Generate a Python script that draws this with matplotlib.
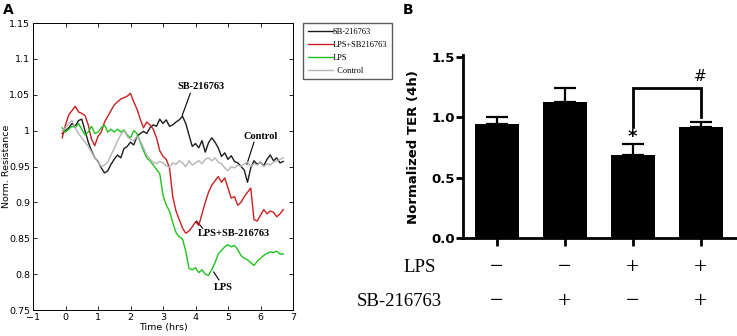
import matplotlib
matplotlib.use("Agg")
import matplotlib.pyplot as plt
from matplotlib.lines import Line2D

# ---------------- data: panel A ----------------
time_hrs = [-0.1, 0.0, 0.1, 0.2, 0.3, 0.4, 0.5, 0.6, 0.7, 0.8, 0.9, 1.0, 1.1, 1.2, 1.3, 1.4,
            1.5, 1.6, 1.7, 1.8, 1.9, 2.0, 2.1, 2.2, 2.3, 2.4, 2.5, 2.6, 2.7, 2.8, 2.9, 3.0,
            3.1, 3.2, 3.3, 3.4, 3.5, 3.6, 3.7, 3.8, 3.9, 4.0, 4.1, 4.2, 4.3, 4.4, 4.5, 4.6,
            4.7, 4.8, 4.9, 5.0, 5.1, 5.2, 5.3, 5.4, 5.5, 5.6, 5.7, 5.8, 5.9, 6.0, 6.1, 6.2,
            6.3, 6.4, 6.5, 6.6, 6.7]

sb216763 = [0.996, 1.000, 1.004, 1.010, 1.006, 1.014, 1.016, 1.000, 0.984, 0.972, 0.962, 0.957,
            0.948, 0.941, 0.944, 0.953, 0.960, 0.966, 0.962, 0.975, 0.978, 0.984, 0.980, 0.992,
            0.996, 0.999, 0.996, 1.004, 1.008, 1.006, 1.016, 1.010, 1.015, 1.006, 1.008, 1.012,
            1.015, 1.020, 1.010, 0.994, 0.978, 0.982, 0.976, 0.986, 0.970, 0.983, 0.990, 0.984,
            0.976, 0.964, 0.969, 0.960, 0.965, 0.957, 0.955, 0.950, 0.945, 0.928, 0.948, 0.958,
            0.953, 0.956, 0.951, 0.960, 0.966, 0.958, 0.962, 0.955, 0.957]

lps_sb = [0.990, 1.008, 1.022, 1.028, 1.034, 1.026, 1.024, 1.021, 1.008, 0.988, 0.979, 0.992,
          0.998, 1.012, 1.020, 1.028, 1.036, 1.040, 1.044, 1.046, 1.048, 1.052, 1.040, 1.030,
          1.016, 1.004, 1.012, 1.008, 1.002, 0.990, 0.972, 0.964, 0.960, 0.948, 0.908, 0.888,
          0.876, 0.864, 0.857, 0.860, 0.866, 0.873, 0.868, 0.884, 0.900, 0.914, 0.924, 0.930,
          0.936, 0.928, 0.934, 0.920, 0.906, 0.908, 0.896, 0.900, 0.908, 0.914, 0.920, 0.876,
          0.874, 0.882, 0.890, 0.884, 0.888, 0.886, 0.880, 0.884, 0.890]

lps = [1.004, 0.998, 1.002, 1.006, 1.004, 1.010, 1.002, 0.994, 0.998, 1.006, 0.996, 0.998,
       1.004, 1.008, 0.998, 1.002, 0.998, 1.002, 0.998, 1.001, 0.994, 0.990, 1.000, 0.996,
       0.984, 0.972, 0.962, 0.958, 0.952, 0.946, 0.940, 0.910, 0.896, 0.888, 0.872, 0.858,
       0.852, 0.849, 0.832, 0.808, 0.806, 0.809, 0.802, 0.806, 0.800, 0.798, 0.806, 0.816,
       0.828, 0.833, 0.838, 0.841, 0.838, 0.840, 0.834, 0.826, 0.822, 0.820, 0.816, 0.812,
       0.818, 0.822, 0.826, 0.829, 0.831, 0.830, 0.832, 0.828, 0.828]

control = [1.000, 1.004, 1.010, 1.014, 1.004, 0.996, 0.990, 0.984, 0.978, 0.970, 0.962, 0.956,
           0.950, 0.952, 0.956, 0.966, 0.975, 0.986, 0.994, 1.000, 0.992, 0.988, 0.986, 0.992,
           0.986, 0.976, 0.966, 0.960, 0.956, 0.954, 0.957, 0.955, 0.951, 0.949, 0.955, 0.953,
           0.958, 0.955, 0.950, 0.958, 0.952, 0.955, 0.958, 0.954, 0.960, 0.962, 0.958, 0.962,
           0.956, 0.954, 0.948, 0.944, 0.950, 0.948, 0.952, 0.950, 0.954, 0.956, 0.950, 0.954,
           0.952, 0.956, 0.950, 0.954, 0.952, 0.956, 0.958, 0.960, 0.962]

series_labels = ["SB-216763", "LPS+SB216763", "LPS", "  Control"]

# ---------------- data: panel B ----------------
bar_values = [0.945, 1.125, 0.685, 0.922]
bar_err = [0.055, 0.118, 0.094, 0.037]
lps_row = ["\u2212", "\u2212", "+", "+"]
sb_row = ["\u2212", "+", "\u2212", "+"]
b_yticks = [0.0, 0.5, 1.0, 1.5]
b_yticklabels = ["0.0", "0.5", "1.0", "1.5"]

# ---------------- figure ----------------
W, H = 737, 336
fig = plt.figure(figsize=(W / 100, H / 100), dpi=100)


def rect(x0, y0, x1, y1):
    return [x0 / W, 1 - y1 / H, (x1 - x0) / W, (y1 - y0) / H]


# ---- Panel A ----
axA = fig.add_axes(rect(33, 23, 293, 310))
colors = ["#1c1c1c", "#cc1f1f", "#1fc21f", "#b4b4b4"]
data = [sb216763, lps_sb, lps, control]
order = [3, 0, 1, 2]
for i in order:
    axA.plot(time_hrs, data[i], color=colors[i], lw=1.0, zorder=2 + i)
axA.set_xlim(-1, 7)
axA.set_ylim(0.75, 1.15)
axA.set_xticks(range(-1, 8))
axA.set_yticks([0.75, 0.8, 0.85, 0.9, 0.95, 1.0, 1.05, 1.1, 1.15])
axA.set_yticklabels(["0.75", "0.8", "0.85", "0.9", "0.95", "1", "1.05", "1.1", "1.15"])
axA.tick_params(direction="in", top=True, right=True, length=3, width=0.6,
                labelsize=6.8, pad=2)
for s in axA.spines.values():
    s.set_linewidth(0.7)
axA.set_xlabel("Time (hrs)", fontsize=6.8, labelpad=1)
axA.set_ylabel("Norm. Resistance", fontsize=6.8)
axA.yaxis.set_label_coords(-22 / 260, 0.5)

ann_font = dict(family="Liberation Serif", fontsize=7.5, fontweight="bold")
annots = [
    ("SB-216763", (4.17, 1.062), (3.84, 1.052), (3.59, 1.021)),
    ("Control", (6.0, 0.992), (5.80, 0.984), (5.58, 0.953)),
    ("LPS+SB-216763", (5.17, 0.857), (4.22, 0.864), (4.03, 0.874)),
    ("LPS", (4.87, 0.782), (4.72, 0.792), (4.56, 0.803)),
]
for txt, tpos, p0, p1 in annots:
    axA.text(tpos[0], tpos[1], txt, ha="center", va="center", **ann_font)
    axA.plot([p0[0], p1[0]], [p0[1], p1[1]], color="black", lw=0.8)

handles = [Line2D([0], [0], color=colors[i], lw=1.0) for i in range(4)]
leg = fig.legend(handles, series_labels, loc="upper left",
                 bbox_to_anchor=(303 / W, 1 - 23 / H), frameon=True, fancybox=False,
                 edgecolor="#333333", prop=dict(family="Liberation Serif", size=6),
                 handlelength=3.0, handletextpad=0.0, labelspacing=0.6,
                 borderpad=0.55, borderaxespad=0.0)
leg.get_frame().set_linewidth(1.0)

fig.text(3 / W, 1 - 10 / H, "A", fontsize=10, fontweight="bold", va="center", ha="left")
fig.text(403 / W, 1 - 10 / H, "B", fontsize=10, fontweight="bold", va="center", ha="left")

# ---- Panel B ----
axB = fig.add_axes(rect(463, 57, 738, 238))
xpos = list(range(len(bar_values)))
axB.bar(xpos, bar_values, width=0.65, color="black", zorder=2)
axB.errorbar(xpos, bar_values, yerr=[[0] * 4, bar_err], fmt="none", ecolor="black",
             elinewidth=1.6, capsize=8, capthick=1.6, zorder=1)
axB.set_xlim(-0.5, 3.55)
axB.set_ylim(0, 1.5)
axB.set_yticks(b_yticks)
axB.set_yticklabels(b_yticklabels)
axB.set_xticks(xpos)
axB.set_xticklabels([])
axB.spines["top"].set_visible(False)
axB.spines["right"].set_visible(False)
axB.spines["left"].set_linewidth(2)
axB.spines["bottom"].set_linewidth(2)
axB.spines["left"].set_bounds(0, 1.52)
axB.spines["left"].set_clip_on(False)
axB.tick_params(axis="y", direction="out", length=5, width=2, labelsize=9.5, pad=1)
axB.tick_params(axis="x", direction="out", length=6, width=2)
for lab in axB.get_yticklabels():
    lab.set_fontweight("bold")
axB.set_ylabel("Normalized TER (4h)", fontsize=9.5, fontweight="bold")
axB.yaxis.set_label_coords(-0.155, 0.5)

# significance bracket
axB.plot([2, 2, 3, 3], [0.92, 1.243, 1.243, 1.0], color="black", lw=2, zorder=3,
         solid_joinstyle="miter")
axB.text(3, 1.28, "#", ha="center", va="bottom", fontsize=11)
axB.text(2, 0.76, "*", ha="center", va="bottom", fontsize=13, fontweight="bold")

# table below
serif = dict(family="Liberation Serif", fontsize=13.5)
sign = dict(family="Liberation Serif", fontsize=17)
fig.text(436 / W, 1 - 268 / H, "LPS", ha="right", va="center", **serif)
fig.text(442 / W, 1 - 302 / H, "SB-216763", ha="right", va="center", **serif)
for i in xpos:
    xf = axB.transData.transform((i, 0))[0] / fig.dpi / fig.get_figwidth()
    fig.text(xf, 1 - 268 / H, lps_row[i], ha="center", va="center", **sign)
    fig.text(xf, 1 - 302 / H, sb_row[i], ha="center", va="center", **sign)

fig.savefig("out.png", dpi=100)
